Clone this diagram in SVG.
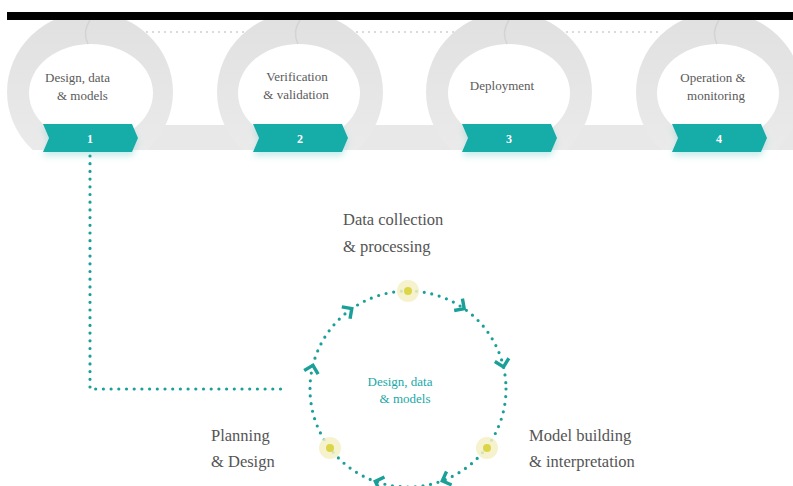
<svg xmlns="http://www.w3.org/2000/svg" width="793" height="486" viewBox="0 0 793 486">
<style>
text{font-family:'Liberation Serif','Times New Roman','DejaVu Serif','Noto Serif',serif}
.lbl{font-size:13px;fill:#5a5a5a}
.big{font-size:16.5px;fill:#555}
.num{font-size:12px;font-weight:bold;fill:#fff;text-anchor:middle}
.ctr{font-size:13px;fill:#1aa8a6}
.ring{fill:url(#ringGrad)}
.inner{fill:#fff}
.ribbon{fill:#17aca8;filter:url(#glow)}
.seam{fill:none;stroke:#d4d4d4;stroke-width:1.5}
.dots{fill:none;stroke:#1a9f99;stroke-width:3.2;stroke-linecap:round;stroke-dasharray:0 7.7}
.arrow{fill:none;stroke:#1a9f99;stroke-width:3.4;stroke-linecap:square}
.halo{fill:#f3f0c4;opacity:0.85}
.core{fill:#dcd548}
</style>
<defs>
<linearGradient id="ringGrad" x1="0" y1="0" x2="0" y2="1">
<stop offset="0" stop-color="#e0e0e0"/>
<stop offset="1" stop-color="#ececec"/>
</linearGradient>
<clipPath id="topClip"><rect x="0" y="20" width="793" height="130"/></clipPath>
<filter id="glow" x="-20%" y="-30%" width="140%" height="190%">
<feDropShadow dx="0" dy="4" stdDeviation="3" flood-color="#7fd6d2" flood-opacity="0.45"/>
</filter>
</defs>
<rect width="793" height="486" fill="#fff"/>
<g id="backdrop">
<line x1="140" y1="32" x2="660" y2="32" stroke="#d0d0d0" stroke-width="1.5" stroke-dasharray="2 4"/>
<rect x="40" y="125" width="753" height="25" fill="#e8e8e8"/>
</g>
<g id="step1">
<ellipse class="ring" cx="90" cy="92" rx="83" ry="80" clip-path="url(#topClip)"/>
<ellipse class="inner" cx="91" cy="93" rx="62" ry="49"/>
<path class="seam" d="M90 20 Q82 32 88 44"/>
<path class="ribbon" d="M43 124 L132 124 L138 138 L132 152 L43 152 L49 138 Z"/>
<text class="num" x="90" y="143">1</text>
<text class="lbl" x="45" y="82">Design, data</text>
<text class="lbl" x="57" y="100">&amp; models</text>
</g>
<g id="step2">
<ellipse class="ring" cx="300" cy="92" rx="83" ry="80" clip-path="url(#topClip)"/>
<ellipse class="inner" cx="299" cy="93" rx="61" ry="49"/>
<path class="seam" d="M300 20 Q292 32 298 44"/>
<path class="ribbon" d="M253 124 L342 124 L348 138 L342 152 L253 152 L259 138 Z"/>
<text class="num" x="300" y="143">2</text>
<text class="lbl" x="297" y="81" text-anchor="middle">Verification</text>
<text class="lbl" x="296" y="99" text-anchor="middle">&amp; validation</text>
</g>
<g id="step3">
<ellipse class="ring" cx="509" cy="92" rx="83" ry="80" clip-path="url(#topClip)"/>
<ellipse class="inner" cx="509" cy="93" rx="61" ry="49"/>
<path class="seam" d="M509 20 Q501 32 507 44"/>
<path class="ribbon" d="M462 124 L551 124 L557 138 L551 152 L462 152 L468 138 Z"/>
<text class="num" x="509" y="143">3</text>
<text class="lbl" x="502" y="90" text-anchor="middle">Deployment</text>
</g>
<g id="step4">
<ellipse class="ring" cx="719" cy="92" rx="83" ry="80" clip-path="url(#topClip)"/>
<ellipse class="inner" cx="718" cy="93" rx="61" ry="49"/>
<path class="seam" d="M719 20 Q711 32 717 44"/>
<path class="ribbon" d="M672 124 L761 124 L767 138 L761 152 L672 152 L678 138 Z"/>
<text class="num" x="719" y="143">4</text>
<text class="lbl" x="713" y="82" text-anchor="middle">Operation &amp;</text>
<text class="lbl" x="716" y="100" text-anchor="middle">monitoring</text>
</g>
<rect id="topbar" x="7" y="12" width="786" height="8" fill="#000"/>
<g id="connectors">
<path class="dots" d="M90 156 L90 389 L287 389"/>
<circle class="dots" cx="408" cy="389" r="98"/>
<g class="arrow">
<path transform="translate(312.9 365.3) rotate(284)" d="M-6 -6 L0 0 L-6 6"/>
<path transform="translate(351.8 308.7) rotate(325)" d="M-6 -6 L0 0 L-6 6"/>
<path transform="translate(464.2 308.7) rotate(35)" d="M-6 -6 L0 0 L-6 6"/>
<path transform="translate(503.5 366.9) rotate(77)" d="M-6 -6 L0 0 L-6 6"/>
<path transform="translate(442.3 480.8) rotate(159.5)" d="M-6 -6 L0 0 L-6 6"/>
<path transform="translate(375.3 481.4) rotate(199.5)" d="M-6 -6 L0 0 L-6 6"/>
</g>
</g>
<g id="center-label">
<text class="ctr" x="400" y="386" text-anchor="middle">Design, data</text>
<text class="ctr" x="405" y="403" text-anchor="middle">&amp; models</text>
</g>
<g id="data-collection">
<circle class="halo" cx="408" cy="291" r="11"/>
<circle class="core" cx="408" cy="291" r="4"/>
<text class="big" x="343" y="225">Data collection</text>
<text class="big" x="343" y="252">&amp; processing</text>
</g>
<g id="planning">
<circle class="halo" cx="330" cy="448" r="11"/>
<circle class="core" cx="330" cy="448" r="4"/>
<text class="big" x="211" y="441">Planning</text>
<text class="big" x="211" y="467">&amp; Design</text>
</g>
<g id="model-building">
<circle class="halo" cx="487" cy="448" r="11"/>
<circle class="core" cx="487" cy="448" r="4"/>
<text class="big" x="529" y="441">Model building</text>
<text class="big" x="529" y="467">&amp; interpretation</text>
</g>
</svg>
